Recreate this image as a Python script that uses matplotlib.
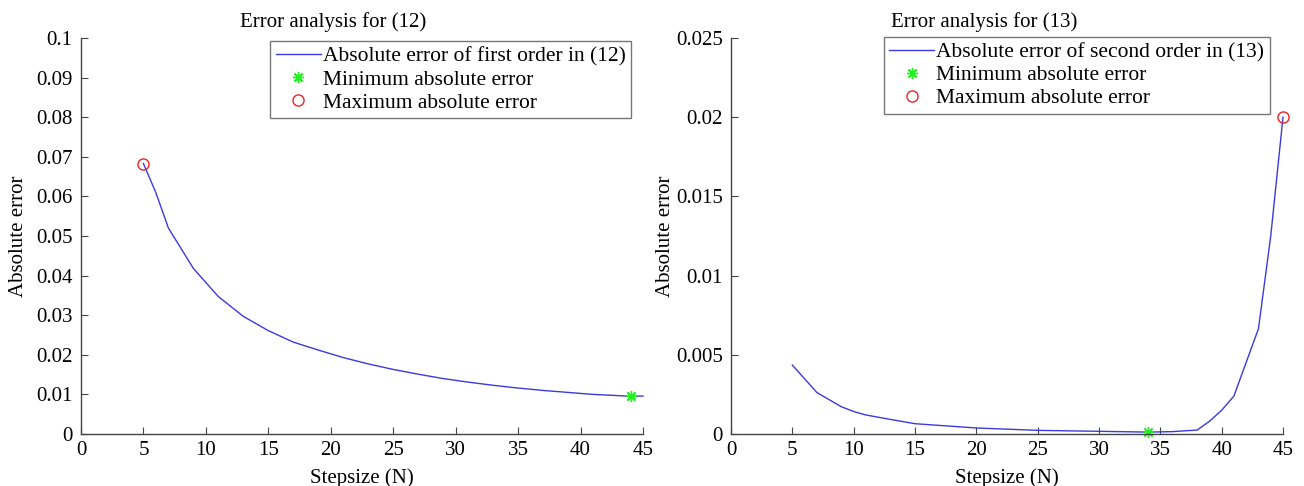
import matplotlib
matplotlib.use("Agg")
import matplotlib.pyplot as plt
from matplotlib.ticker import FuncFormatter

# ---- data ----
n1 = [5, 6, 7, 9, 11, 13, 15, 17, 19, 21, 23, 25, 27, 29, 31, 33, 35, 37, 39, 41, 43, 44, 45]
err1 = [0.0683, 0.0609, 0.0520, 0.0418, 0.0347, 0.0297, 0.0261, 0.0232, 0.0212, 0.0193,
        0.0177, 0.0163, 0.0151, 0.0140, 0.0131, 0.0123, 0.0116, 0.0110, 0.0105, 0.0100,
        0.0097, 0.0095, 0.0096]
min1 = (44, 0.0095)
max1 = (5, 0.0683)

n2 = [5, 7, 9, 10, 11, 13, 15, 20, 25, 30, 34, 36, 38, 39, 40, 41, 43, 44, 45]
err2 = [0.00435, 0.00262, 0.00172, 0.00142, 0.00120, 0.00092, 0.00065, 0.00038, 0.00023,
        0.00017, 0.00012, 0.00015, 0.00025, 0.00080, 0.00150, 0.00240, 0.00665, 0.01250, 0.02000]
min2 = (34, 0.00012)
max2 = (45, 0.0200)

xticks = [0, 5, 10, 15, 20, 25, 30, 35, 40, 45]
yticks1 = [0, 0.01, 0.02, 0.03, 0.04, 0.05, 0.06, 0.07, 0.08, 0.09, 0.1]
yticks2 = [0, 0.005, 0.01, 0.015, 0.02, 0.025]

titles = ["Error analysis for (12)", "Error analysis for (13)"]
labels_line = ["Absolute error of first order in (12)", "Absolute error of second order in (13)"]
label_min = "Minimum absolute error"
label_max = "Maximum absolute error"
xlabel = "Stepsize (N)"
ylabel = "Absolute error"

plt.rcParams['font.family'] = ['Liberation Serif', 'DejaVu Serif']
FS = 15

fig = plt.figure(figsize=(13.04, 4.86), dpi=100)
W, H = 1304, 486
ax1 = fig.add_axes([81 / W, 52 / H, (643 - 81) / W, 396 / H])
ax2 = fig.add_axes([731 / W, 52 / H, (1283 - 731) / W, 396 / H])

fmt = FuncFormatter(lambda v, p: ('%g' % round(v, 6)))
line_color = '#3a3ae0'
ast = (8, 2, 0)

def style(ax, yticks, ymax, title, title_x, legend_anchor, ylab_x):
    ax.set_xlim(0, 45)
    ax.set_ylim(0, ymax)
    ax.set_xticks(xticks)
    ax.set_yticks(yticks)
    ax.yaxis.set_major_formatter(fmt)
    for s in ['top', 'right']:
        ax.spines[s].set_visible(False)
    for s in ['left', 'bottom']:
        ax.spines[s].set_color('#444444')
        ax.spines[s].set_linewidth(1.0)
    ax.tick_params(direction='in', length=5, width=0.8, color='#444444', labelsize=FS, pad=6)
    ax.tick_params(axis='x', pad=5)
    ax.set_xlabel(xlabel, fontsize=FS, labelpad=6)
    ax.set_ylabel(ylabel, fontsize=FS)
    ax.yaxis.set_label_coords(ylab_x, 0.5)
    ax.text(title_x, 1.028, title, transform=ax.transAxes, ha='center', va='baseline', fontsize=FS)
    leg = ax.legend(loc='upper right', bbox_to_anchor=legend_anchor, fontsize=15.5,
                    frameon=True, fancybox=False, handlelength=2.1, handletextpad=0.1,
                    labelspacing=0.14, borderpad=0.25, borderaxespad=0)
    leg.get_frame().set_edgecolor('#555555')
    leg.get_frame().set_linewidth(1.0)

ax1.plot(n1, err1, color=line_color, lw=1.0, label=labels_line[0])
ax1.plot([min1[0]], [min1[1]], linestyle='none', marker=ast, color='#22ee22', ms=8, mew=1.0, label=label_min)
ax1.plot([max1[0]], [max1[1]], linestyle='none', marker='o', mfc='none', mec='#ee2222', ms=8, mew=1.0, label=label_max)
style(ax1, yticks1, 0.1, titles[0], 0.448, (0.979, 0.992), -0.094)

ax2.plot(n2, err2, color=line_color, lw=1.0, label=labels_line[1])
ax2.plot([min2[0]], [min2[1]], linestyle='none', marker=ast, color='#22ee22', ms=8, mew=1.0, label=label_min)
ax2.plot([max2[0]], [max2[1]], linestyle='none', marker='o', mfc='none', mec='#ee2222', ms=8, mew=1.0, label=label_max)
style(ax2, yticks2, 0.025, titles[1], 0.459, (0.976, 1.003), -0.102)

for ax in (ax1, ax2):
    for l in ax.lines:
        l.set_clip_on(False)

fig.savefig('out.png', dpi=100)
